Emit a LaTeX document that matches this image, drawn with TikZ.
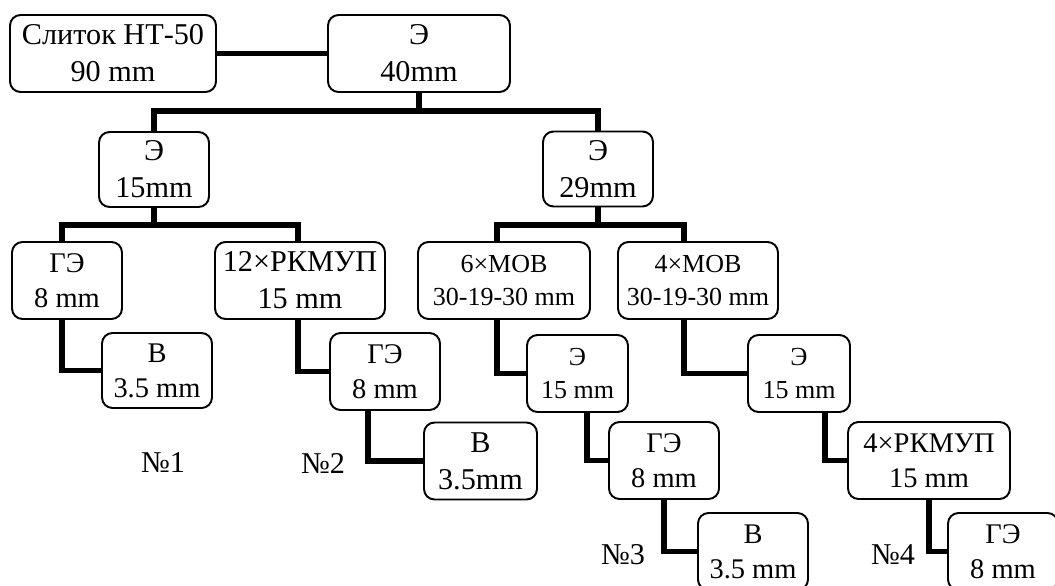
\documentclass[tikz,border=0pt]{standalone}
\usepackage{fontspec}
\setmainfont{Liberation Serif}
\usepackage{tikz}
\usetikzlibrary{calc,positioning}

\begin{document}
\begin{tikzpicture}[x=0.02cm,y=-0.02cm,
  box/.style={draw,line width=1.1pt,rounded corners=6pt,align=center,inner sep=0pt,
    font=\fontsize{17.2}{21}\selectfont,minimum height=1.54cm,minimum width=#1},
  box/.default=2.2cm,
  small/.style={font=\fontsize{14.8}{18.5}\selectfont},
  mid/.style={font=\fontsize{16.2}{20}\selectfont},
  link/.style={line width=3pt},
  lbl/.style={font=\fontsize{17.2}{21}\selectfont}]
  \useasboundingbox (0,0) rectangle (1055,585);
  % 第一行
  \node[box=4.12cm] (slitok) at (113,53.5) {Слиток НТ-50\\90 mm};
  \node[box=3.64cm] (e40) at (419,53.5) {Э\\40mm};
  \node[box,minimum height=1.5cm] (e15) at (154,169.5) {Э\\15mm};
  \node[box,minimum height=1.5cm] (e29) at (598,169) {Э\\29mm};
  % 第三行
  \node[box,mid] (ge1) at (67,280.5) {ГЭ\\8 mm};
  \node[box=3.4cm] (rk12) at (300,280.5) {12×РКМУП\\15 mm};
  \node[box=3.44cm,small] (mob6) at (504,280.5) {6×МОВ\\30-19-30 mm};
  \node[box=3.2cm,small] (mob4) at (698,280.5) {4×МОВ\\30-19-30 mm};
  \node[box,minimum height=1.5cm,mid] (v1) at (157,370.5) {В\\3.5 mm};
  \node[box,mid] (ge2) at (385,371.5) {ГЭ\\8 mm};
  \node[box=2.02cm,small] (e15b) at (577.5,373.5) {Э\\15 mm};
  \node[box=2.04cm,small] (e15c) at (799,373.5) {Э\\15 mm};
  \node[box=2.26cm] (v2) at (480.5,461) {В\\3.5mm};
  \node[box,mid] (ge3) at (664,460.5) {ГЭ\\8 mm};
  \node[box=3.24cm,mid] (rk4) at (929,460.5) {4×РКМУП\\15 mm};
  \node[box,mid] (v3) at (753,551.5) {В\\3.5 mm};
  \node[box,mid] (ge4) at (1003,551.5) {ГЭ\\8 mm};
  % 编号
  \node[lbl] (n1) at (163,463) {№1};
  \node[lbl] (n2) at (323,463) {№2};
  \node[lbl] (n3) at (623,555) {№3};
  \node[lbl] (n4) at (893,555) {№4};
  % 连线
  \coordinate (c1) at (62,225);
  \coordinate (c2) at (298,225);
  \coordinate (c3) at (497,225);
  \coordinate (c4) at (684,225);
  \coordinate (c5) at (368,0);
  \coordinate (c6) at (587,0);
  \coordinate (c7) at (825,0);
  \draw[link] (slitok) -- (e40);
  \draw[link] (e40.south) -- ++(0,18) coordinate (k0);
  \draw[link] (e15.north) |- (k0) -| (e29.north);
  \draw[link] (e15) -- (e15 |- c1);
  \draw[link] (c1 |- ge1.north) -- (c1) -- (c2) -- (c2 |- rk12.north);
  \draw[link] (c1 |- ge1.south) |- (v1);
  \draw[link] (c2 |- rk12.south) |- (ge2);
  \draw[link] (e29) -- (e29 |- c3);
  \draw[link] (c3 |- mob6.north) -- (c3) -- (c4) -- (c4 |- mob4.north);
  \draw[link] (c3 |- mob6.south) |- (e15b);
  \draw[link] (c4 |- mob4.south) |- (e15c);
  \draw[link] (c5 |- ge2.south) |- (v2);
  \draw[link] (c6 |- e15b.south) |- (ge3);
  \draw[link] (c7 |- e15c.south) |- (rk4);
  \draw[link] (ge3.south) |- (v3);
  \draw[link] (rk4.south) |- (ge4);
\end{tikzpicture}
\end{document}
